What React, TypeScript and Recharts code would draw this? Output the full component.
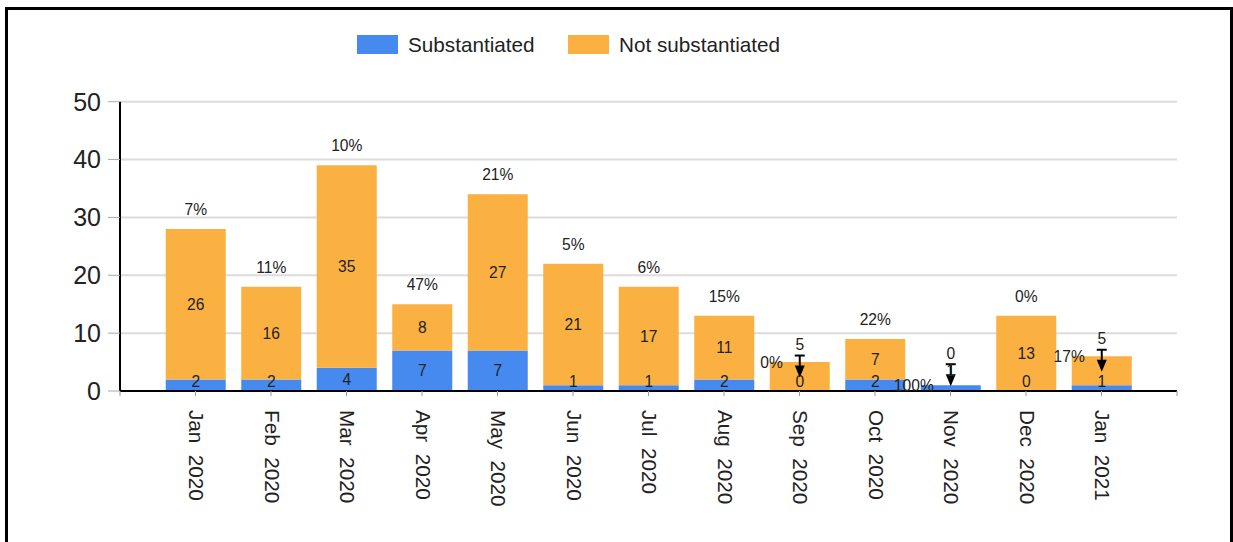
import React from "react";
import { Bar, BarChart, CartesianGrid, LabelList, Legend, XAxis, YAxis } from "recharts";

const months = [
  "Jan 2020", "Feb 2020", "Mar 2020", "Apr 2020", "May 2020", "Jun 2020", "Jul 2020",
  "Aug 2020", "Sep 2020", "Oct 2020", "Nov 2020", "Dec 2020", "Jan 2021",
];
const substantiated = [2, 2, 4, 7, 7, 1, 1, 2, 0, 2, 1, 0, 1];
const notSubstantiated = [26, 16, 35, 8, 27, 21, 17, 11, 5, 7, 0, 13, 5];
const yTicks = [0, 10, 20, 30, 40, 50];
const xTicks = [0, 1, 2, 3, 4, 5, 6, 7, 8, 9, 10, 11, 12, 13, 14];

const SUB_NAME = "Substantiated";
const NOT_NAME = "Not substantiated";

const BLUE = "#4689ef";
const ORANGE = "#fbb141";
const FONT = "'Liberation Sans', Arial, sans-serif";
const TEXT = "#222";

const W = 1222;
const H = 530;
const MARGIN = { top: 91.7, right: 53, bottom: 9, left: 0 };
const Y_AXIS_W = 112;
const PLOT_LEFT = MARGIN.left + Y_AXIS_W;
const STEP = (W - MARGIN.right - PLOT_LEFT) / 14;

const data = months.map((month, i) => ({
  idx: i + 1,
  month,
  substantiated: substantiated[i],
  notSubstantiated: notSubstantiated[i],
}));

const pct = (i: number) => {
  const total = substantiated[i] + notSubstantiated[i];
  return total ? Math.round((100 * substantiated[i]) / total) + "%" : "";
};

// recharts skips zero-height segments in LabelList, so find the month from the bar position
const indexOf = (x: number, width: number) => Math.round((x + width / 2 - PLOT_LEFT) / STEP) - 1;

const txt = { fontSize: 15.6, fontFamily: FONT, fill: TEXT, dominantBaseline: "central" as const };

function MonthTick({ x, y, payload }: any) {
  const label = months[payload.value - 1];
  if (!label) return null;
  return (
    <text
      transform={`translate(${x + 1},${y + 14}) rotate(90)`}
      textAnchor="start"
      dominantBaseline="central"
      fontSize={20.7}
      fontFamily={FONT}
      fill={TEXT}
    >
      {label.replace(" ", "\u00a0\u00a0")}
    </text>
  );
}

// orange value + percent; callout with a stem when the segment is short
function OrangeLabels({ i, x, y, width, height }: any) {
  const cx = x + width / 2;
  const segCenter = y + height / 2;
  if (height >= 35) {
    return (
      <g>
        <text x={cx} y={segCenter} textAnchor="middle" {...txt}>{notSubstantiated[i]}</text>
        <text x={cx} y={y - 19.5} textAnchor="middle" {...txt}>{pct(i)}</text>
      </g>
    );
  }
  return (
    <g>
      <text x={cx} y={segCenter - 32} textAnchor="middle" {...txt}>{notSubstantiated[i]}</text>
      <line x1={cx - 5} x2={cx + 5} y1={segCenter - 21} y2={segCenter - 21} stroke="#000" strokeWidth={2} />
      <line x1={cx} x2={cx} y1={segCenter - 21} y2={segCenter - 8} stroke="#000" strokeWidth={2} />
      <polygon points={`${cx - 5},${segCenter - 11} ${cx + 5},${segCenter - 11} ${cx},${segCenter + 1}`} fill="#000" />
      <text x={x + 13} y={y} textAnchor="end" {...txt}>{pct(i)}</text>
    </g>
  );
}

function BlueLabel({ i, x, y, width, height }: any) {
  const cx = x + width / 2;
  const base = y + height;
  let cy = Math.min(y + height / 2, base - 10);
  if (height < 8 && notSubstantiated[i] === 0) cy = y + height / 2 - 18;
  return (
    <text x={cx} y={cy} textAnchor="middle" {...txt}>
      {substantiated[i]}
    </text>
  );
}

function TopLabel(props: any) {
  const { x, y, width, height } = props;
  const i = indexOf(x, width);
  return (
    <g>
      {substantiated[i] === 0 && <BlueLabel i={i} x={x} y={y + height} width={width} height={0} />}
      <OrangeLabels i={i} x={x} y={y} width={width} height={height} />
    </g>
  );
}

function BottomLabel(props: any) {
  const { x, y, width, height } = props;
  const i = indexOf(x, width);
  return (
    <g>
      {notSubstantiated[i] === 0 && <OrangeLabels i={i} x={x} y={y} width={width} height={0} />}
      <BlueLabel i={i} x={x} y={y} width={width} height={height} />
    </g>
  );
}

function LegendBox() {
  return (
    <div style={{ position: "relative", width: 460, height: 22, fontFamily: FONT, fontSize: 20.7, color: TEXT }}>
      <span style={{ position: "absolute", left: 0, top: 0, width: 41, height: 19, background: BLUE }} />
      <span style={{ position: "absolute", left: 51, top: -1, lineHeight: "21px", whiteSpace: "nowrap" }}>{SUB_NAME}</span>
      <span style={{ position: "absolute", left: 211, top: 0, width: 41, height: 19, background: ORANGE }} />
      <span style={{ position: "absolute", left: 262, top: -1, lineHeight: "21px", whiteSpace: "nowrap" }}>{NOT_NAME}</span>
    </div>
  );
}

export default function App() {
  return (
    <div
      style={{
        position: "absolute",
        left: 5,
        top: 7,
        width: 1228,
        height: 580,
        boxSizing: "border-box",
        border: "3px solid #000",
        background: "#fff",
      }}
    >
      <BarChart width={W} height={H} data={data} margin={MARGIN} barSize={60}>
        <CartesianGrid vertical={false} stroke="#dcdcdc" strokeWidth={2} />
        <XAxis
          type="number"
          dataKey="idx"
          domain={[0, 14]}
          ticks={xTicks}
          interval={0}
          height={140}
          tickSize={5}
          tickMargin={0}
          tick={<MonthTick />}
          tickLine={{ stroke: "#999" }}
          axisLine={{ stroke: "#000", strokeWidth: 2 }}
        />
        <YAxis
          domain={[0, 50]}
          ticks={yTicks}
          width={Y_AXIS_W}
          tickSize={12}
          tickMargin={7}
          tick={{ fontSize: 25, fontFamily: FONT, fill: TEXT }}
          tickLine={{ stroke: "#aaa" }}
          axisLine={{ stroke: "#000", strokeWidth: 2 }}
        />
        <Legend
          verticalAlign="middle"
          align="center"
          layout="horizontal"
          content={() => <LegendBox />}
          wrapperStyle={{ top: 25, left: 349, width: 460, height: 22 }}
        />
        <Bar dataKey="substantiated" name={SUB_NAME} stackId="a" fill={BLUE} isAnimationActive={false}>
          <LabelList dataKey="substantiated" content={<BottomLabel />} />
        </Bar>
        <Bar dataKey="notSubstantiated" name={NOT_NAME} stackId="a" fill={ORANGE} isAnimationActive={false}>
          <LabelList dataKey="notSubstantiated" content={<TopLabel />} />
        </Bar>
      </BarChart>
    </div>
  );
}
